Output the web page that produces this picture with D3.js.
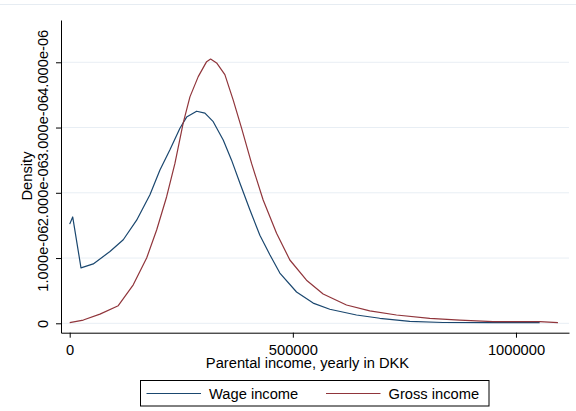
<!DOCTYPE html>
<html>
<head>
<meta charset="utf-8">
<script src="https://cdn.jsdelivr.net/npm/d3@7"></script>
<style>
  body { margin: 0; background: #fff; }
  svg { display: block; font-family: "Liberation Sans", Arial, sans-serif; }
  .axis path, .axis line { stroke: #000; }
  .axis text { font-size: 14.7px; fill: #000; font-family: "Liberation Sans", Arial, sans-serif; }
</style>
</head>
<body>
<div id="chart"></div>
<script>

// Data (density in units of 1e-6)
var wageIncome = [0, 6700, 25300, 52800, 90200, 120000, 150000, 179800, 202200, 224600, 247000, 262000,
  284400, 303000, 321600, 344000, 362700, 381300, 403700, 426100, 448500, 470900, 508300, 545500,
  582800, 642600, 694800, 762000, 836500, 950000, 1053000];
var wageDensity = [1.52, 1.63, 0.85, 0.91, 1.10, 1.28, 1.58, 1.97, 2.35, 2.66, 2.99, 3.16,
  3.25, 3.22, 3.09, 2.81, 2.50, 2.15, 1.74, 1.35, 1.05, 0.77, 0.48, 0.31,
  0.215, 0.127, 0.077, 0.03, 0.012, 0.01, 0.01];

var grossIncome = [0, 30500, 67800, 108800, 142400, 172400, 194800, 217200, 235800, 254400, 269400,
  288000, 306800, 315700, 329200, 347700, 366400, 385100, 407500, 433500, 463500, 493300, 530600,
  567900, 620200, 672400, 732200, 806800, 874000, 948500, 1053000, 1094000];
var grossDensity = [0.01, 0.05, 0.14, 0.27, 0.59, 1.00, 1.43, 1.94, 2.45, 3.07, 3.47,
  3.78, 4.01, 4.05, 3.99, 3.81, 3.42, 2.99, 2.45, 1.89, 1.38, 0.97, 0.66,
  0.45, 0.28, 0.19, 0.127, 0.077, 0.05, 0.025, 0.025, 0.01];

var seriesNames = ["Wage income", "Gross income"];
var seriesColors = ["#1a476f", "#90353b"];

var xTicks = [0, 500000, 1000000];
var yTicks = [0, 1, 2, 3, 4];
var yTickLabels = ["0", "1.000e-06", "2.000e-06", "3.000e-06", "4.000e-06"];

var width = 576, height = 411;

var svg = d3.select("#chart").append("svg")
    .attr("width", width)
    .attr("height", height);

// faint graph region border at top
svg.append("line")
    .attr("x1", 0).attr("x2", width)
    .attr("y1", 4.5).attr("y2", 4.5)
    .attr("stroke", "#e6ecf2");

// scales
var x = d3.scaleLinear().domain([-19500, 1118800]).range([61, 569]);
var y = d3.scaleLinear().domain([-0.144, 4.648]).range([332.7, 20]);

// gridlines
svg.append("g")
  .selectAll("line")
  .data(yTicks)
  .enter().append("line")
    .attr("x1", x.range()[0]).attr("x2", x.range()[1])
    .attr("y1", function(d) { return y(d); })
    .attr("y2", function(d) { return y(d); })
    .attr("stroke", "#e8eef4")
    .attr("stroke-width", 1);

// lines
var series = [
  { name: seriesNames[0], xs: wageIncome, ys: wageDensity, color: seriesColors[0] },
  { name: seriesNames[1], xs: grossIncome, ys: grossDensity, color: seriesColors[1] }
];

var line = d3.line()
    .x(function(d) { return x(d[0]); })
    .y(function(d) { return y(d[1]); });

series.forEach(function(s) {
  svg.append("path")
      .datum(d3.zip(s.xs, s.ys))
      .attr("fill", "none")
      .attr("stroke", s.color)
      .attr("stroke-width", 1.2)
      .attr("stroke-linejoin", "round")
      .attr("d", line);
});

// Y axis
var yAxis = svg.append("g")
    .attr("class", "axis")
    .attr("transform", "translate(" + x.range()[0] + ",0)")
    .call(d3.axisLeft(y)
      .tickValues(yTicks)
      .tickSizeOuter(0)
      .tickSizeInner(5)
      .tickFormat(function(d, i) { return yTickLabels[i]; }));
yAxis.selectAll("text")
    .attr("transform", "rotate(-90)")
    .attr("x", 0)
    .attr("y", -13)
    .attr("dy", 0)
    .style("text-anchor", "middle");

// X axis
var xAxis = svg.append("g")
    .attr("class", "axis")
    .attr("transform", "translate(0," + y.range()[0] + ")")
    .call(d3.axisBottom(x)
      .tickValues(xTicks)
      .tickSizeOuter(0)
      .tickSizeInner(5)
      .tickFormat(d3.format("d")));
xAxis.selectAll("text")
    .attr("y", 22.5)
    .attr("dy", 0);

// axis titles
svg.append("text")
    .attr("transform", "translate(31.5,176) rotate(-90)")
    .attr("text-anchor", "middle")
    .style("font-size", "14.7px")
    .text("Density");

svg.append("text")
    .attr("x", 307.5)
    .attr("y", 367.5)
    .attr("text-anchor", "middle")
    .style("font-size", "14.7px")
    .text("Parental income, yearly in DKK");

// legend
var legend = svg.append("g");
legend.append("rect")
    .attr("x", 140.5).attr("y", 380.5)
    .attr("width", 348.5).attr("height", 25.5)
    .attr("fill", "#fff")
    .attr("stroke", "#000")
    .attr("stroke-width", 1);

var legendX = [146.5, 326];
series.forEach(function(s, i) {
  legend.append("line")
      .attr("x1", legendX[i]).attr("x2", legendX[i] + 54.5)
      .attr("y1", 393.5).attr("y2", 393.5)
      .attr("stroke", s.color)
      .attr("stroke-width", 1.2);
  legend.append("text")
      .attr("x", legendX[i] + 62.5)
      .attr("y", 398.5)
      .style("font-size", "14.7px")
      .text(s.name);
});

</script>
</body>
</html>
